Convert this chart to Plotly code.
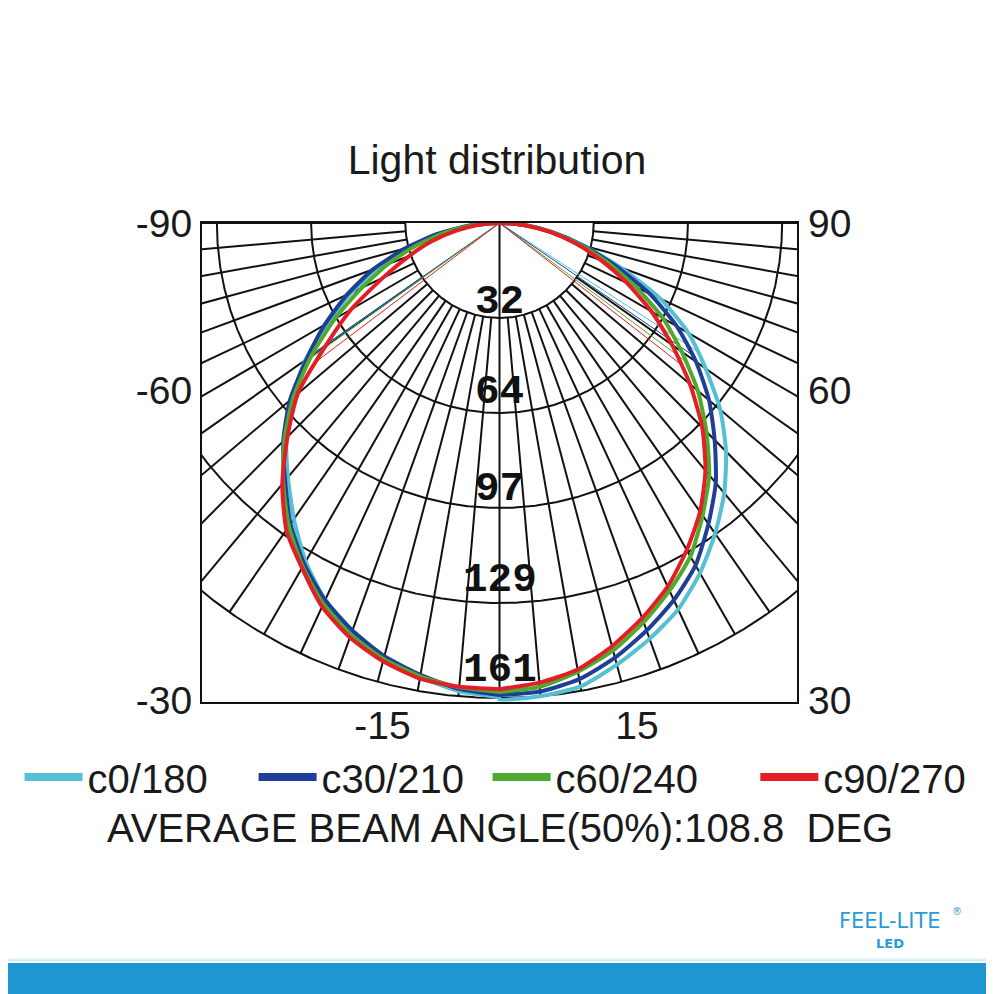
import numpy as np
import plotly.graph_objects as go

# ---------------- data ----------------
ANGLES = [0, 5, 10, 15, 20, 25, 30, 35, 40, 45, 50, 55, 60, 65, 70, 75, 80, 85, 90]

# intensity (cd) per angle; right half = first plane, left half = opposite plane
C0 = [161.5, 161.0, 159.5, 155.0, 150.0, 144.5, 137.0, 128.5, 119.5, 109.5, 98.5, 86.0, 74.5, 60.5, 44.0, 30.0, 18.5, 9.0, 0.0]
C180 = [161.0, 159.3, 156.3, 152.5, 147.5, 141.0, 132.5, 122.5, 112.5, 103.0, 92.5, 81.0, 68.0, 56.0, 44.5, 32.5, 21.0, 10.0, 0.0]
C30 = [160.0, 159.4, 157.0, 152.5, 147.0, 141.0, 134.0, 124.5, 115.0, 104.0, 93.5, 82.0, 70.0, 56.5, 42.0, 29.5, 18.5, 9.0, 0.0]
C210 = [160.0, 158.5, 155.5, 152.0, 147.0, 141.0, 133.5, 124.5, 114.0, 104.5, 93.5, 80.5, 69.0, 57.5, 46.0, 33.5, 21.5, 10.5, 0.0]
C60 = [159.0, 157.8, 154.4, 150.0, 144.0, 137.5, 130.5, 121.0, 111.5, 100.0, 88.5, 76.0, 64.5, 51.5, 39.5, 28.5, 18.0, 9.0, 0.0]
C240 = [159.0, 158.0, 156.0, 153.0, 148.5, 142.5, 134.5, 125.5, 115.0, 104.0, 92.0, 78.5, 65.0, 52.0, 40.5, 29.5, 19.0, 9.5, 0.0]
C90 = [158.0, 156.4, 153.7, 148.5, 142.5, 136.0, 128.0, 119.5, 109.5, 98.0, 85.0, 72.0, 60.0, 48.0, 37.0, 27.0, 17.5, 8.5, 0.0]
C270 = [158.0, 157.8, 156.8, 153.8, 149.5, 143.5, 135.0, 127.0, 115.5, 102.5, 90.0, 72.5, 58.5, 44.0, 33.0, 24.0, 15.0, 7.0, 0.0]

SERIES_NAMES = ["c0/180", "c30/210", "c60/240", "c90/270"]
SERIES_COLORS = ["#55C0D3", "#1F3E97", "#4DAA2E", "#E41E26"]
RIGHT_HALVES = [C0, C30, C60, C90]
LEFT_HALVES = [C180, C210, C240, C270]

RING_VALUES = [32.2, 64.4, 96.6, 128.8, 161.0]
RING_LABELS = ["32", "64", "97", "129", "161"]
SPOKE_ANGLES = list(range(-90, 95, 5))

LEFT_TICK_VALS = [0.0, -56.6, -161.8]
LEFT_TICK_TEXT = ["-90", "-60", "-30"]
RIGHT_TICK_TEXT = ["90", "60", "30"]
BOTTOM_TICK_VALS = [-40.0, 47.0]
BOTTOM_TICK_TEXT = ["-15", "15"]

TITLE = "Light distribution"
BEAM_TEXT = "AVERAGE BEAM ANGLE(50%):108.8\u00a0 DEG"

# ---------------- geometry (page pixels; the page has an 8px body margin) ----------------
OFF = 8
BOX_L, BOX_R, BOX_T, BOX_B = 197, 797, 223, 702
W = H = 994 - OFF
ML, MT = BOX_L - OFF, BOX_T - OFF
MR, MB = W - (BOX_R - OFF), H - (BOX_B - OFF)
PW, PH = BOX_R - BOX_L, BOX_B - BOX_T
PX = 475.0 / 161.0          # pixels per cd
XR = PW / 2 / PX
YR = PH / PX

# per-ring label offset above the ring (px)
LABEL_RAISE = [16, 21, 19, 23, 28]
# legend sample start positions (page px)
LEGEND_X = [25, 261, 497, 767]

SANS = "Liberation Sans, Arial, sans-serif"
MONO = "Liberation Mono, Courier New, monospace"
INK = "#1a1a1a"
BRAND = "#2B9BD7"


def px2paper(px, py):
    return (px - BOX_L) / PW, (BOX_B - py) / PH


def to_xy(theta_deg, r):
    t = np.radians(np.asarray(theta_deg, dtype=float))
    r = np.asarray(r, dtype=float)
    return r * np.sin(t), -r * np.cos(t)


fig = go.Figure()

# grid rings
for rv in RING_VALUES:
    th = np.linspace(-90, 90, 721)
    x, y = to_xy(th, np.full_like(th, rv))
    fig.add_trace(go.Scatter(x=x, y=y, mode="lines", line=dict(color="#111111", width=2),
                             hoverinfo="skip", showlegend=False))

# spokes
sx, sy = [], []
for a in SPOKE_ANGLES:
    r0 = 0.0 if a == 0 else RING_VALUES[0]
    x, y = to_xy([a, a], [r0, RING_VALUES[-1]])
    sx += list(x) + [None]
    sy += list(y) + [None]
fig.add_trace(go.Scatter(x=sx, y=sy, mode="lines", line=dict(color="#111111", width=2),
                         hoverinfo="skip", showlegend=False))

# half-intensity (50%) lines
for name, col, right, left in zip(SERIES_NAMES, SERIES_COLORS, RIGHT_HALVES, LEFT_HALVES):
    peak = max(max(right), max(left))
    h = 0.5 * peak
    for half, sign in ((right, 1), (left, -1)):
        a_half = float(np.interp(h, half[::-1], ANGLES[::-1]))
        x, y = to_xy([0, sign * a_half], [0, h])
        fig.add_trace(go.Scatter(x=x, y=y, mode="lines", line=dict(color=col, width=1),
                                 hoverinfo="skip", showlegend=False))

# curves
for name, col, right, left in zip(SERIES_NAMES, SERIES_COLORS, RIGHT_HALVES, LEFT_HALVES):
    th = [-a for a in ANGLES[::-1]] + ANGLES
    rr = left[::-1] + right
    x, y = to_xy(th, rr)
    fig.add_trace(go.Scatter(x=x, y=y, mode="lines", name=name,
                             line=dict(color=col, width=4, shape="spline", smoothing=0.6),
                             showlegend=False))

# legend entries (thicker sample lines), one legend per entry
legend_keys = ["legend", "legend2", "legend3", "legend4"]
for name, col, key in zip(SERIES_NAMES, SERIES_COLORS, legend_keys):
    fig.add_trace(go.Scatter(x=[None], y=[None], mode="lines", name=name, legend=key,
                             line=dict(color=col, width=8), showlegend=True))

# right axis carrier
fig.add_trace(go.Scatter(x=[None], y=[None], yaxis="y2", showlegend=False, hoverinfo="skip"))

# ring labels
for rv, lab, raise_px in zip(RING_VALUES, RING_LABELS, LABEL_RAISE):
    fig.add_annotation(x=0, y=-rv, xref="x", yref="y", text=lab, showarrow=False,
                       yanchor="middle", yshift=raise_px,
                       font=dict(family=MONO, size=41, color="#111111", weight="bold"))

bx, by = px2paper(498, 828)
fig.add_annotation(x=bx, y=by, xref="paper", yref="paper",
                   text=BEAM_TEXT, showarrow=False, xanchor="center", yanchor="middle",
                   font=dict(family=SANS, size=40, color=INK))

# logo
lx, ly = px2paper(891, 921)
fig.add_annotation(x=lx, y=ly, xref="paper", yref="paper",
                   text="FEEL-LITE", showarrow=False, xanchor="center", yanchor="middle",
                   font=dict(family="DejaVu Sans", size=21, color=BRAND))
rx, ry = px2paper(958, 911)
fig.add_annotation(x=rx, y=ry, xref="paper", yref="paper",
                   text="®", showarrow=False, xanchor="center", yanchor="middle",
                   font=dict(family="DejaVu Sans", size=10, color=BRAND))
ex, ey = px2paper(891, 943)
fig.add_annotation(x=ex, y=ey, xref="paper", yref="paper",
                   text="<b>LED</b>", showarrow=False, xanchor="center", yanchor="middle",
                   font=dict(family="DejaVu Sans", size=13, color=BRAND))

# bottom band
x0, y0 = px2paper(0, 963)
x1, y1 = px2paper(1000, 1000)
fig.add_shape(type="rect", xref="paper", yref="paper", x0=x0, x1=x1, y0=y0, y1=y1,
              fillcolor="#1E96D2", line=dict(width=0), layer="above")
_, yl = px2paper(0, 960)
fig.add_shape(type="line", xref="paper", yref="paper", x0=x0, x1=x1, y0=yl, y1=yl,
              line=dict(color="#DCEEF8", width=3), layer="above")

legend_layout = {}
for key, lxp in zip(legend_keys, LEGEND_X):
    gx, gy = px2paper(lxp - 12, 777)
    legend_layout[key] = dict(orientation="h", x=gx, xanchor="left", y=gy, yanchor="middle",
                              font=dict(family=SANS, size=40, color=INK),
                              itemwidth=58, bgcolor="rgba(0,0,0,0)")

fig.update_layout(
    width=W, height=H,
    margin=dict(l=ML, r=MR, t=MT, b=MB, pad=0),
    paper_bgcolor="white", plot_bgcolor="white",
    title=dict(text=TITLE, x=(497 - OFF) / W, xanchor="center", y=1 - (160 - OFF) / H,
               yref="container", yanchor="middle",
               font=dict(family=SANS, size=41, color=INK)),
    xaxis=dict(range=[-XR, XR], showgrid=False, zeroline=False, showline=True, mirror=True,
               linecolor="#111111", linewidth=2, ticks="", tickmode="array",
               tickvals=BOTTOM_TICK_VALS, ticktext=BOTTOM_TICK_TEXT,
               tickfont=dict(family=SANS, size=39, color=INK), ticklabelstandoff=-12),
    yaxis=dict(range=[-YR, 0], showgrid=False, zeroline=False, showline=True, mirror=True,
               linecolor="#111111", linewidth=2, ticks="", tickmode="array",
               tickvals=LEFT_TICK_VALS, ticktext=LEFT_TICK_TEXT,
               tickfont=dict(family=SANS, size=39, color=INK), ticklabelstandoff=0),
    yaxis2=dict(range=[-YR, 0], overlaying="y", side="right", showgrid=False, zeroline=False,
                showline=False, ticks="", tickmode="array",
                tickvals=LEFT_TICK_VALS, ticktext=RIGHT_TICK_TEXT,
                tickfont=dict(family=SANS, size=39, color=INK), ticklabelstandoff=10),
    showlegend=True,
    **legend_layout,
)

fig.write_html("out.html")
